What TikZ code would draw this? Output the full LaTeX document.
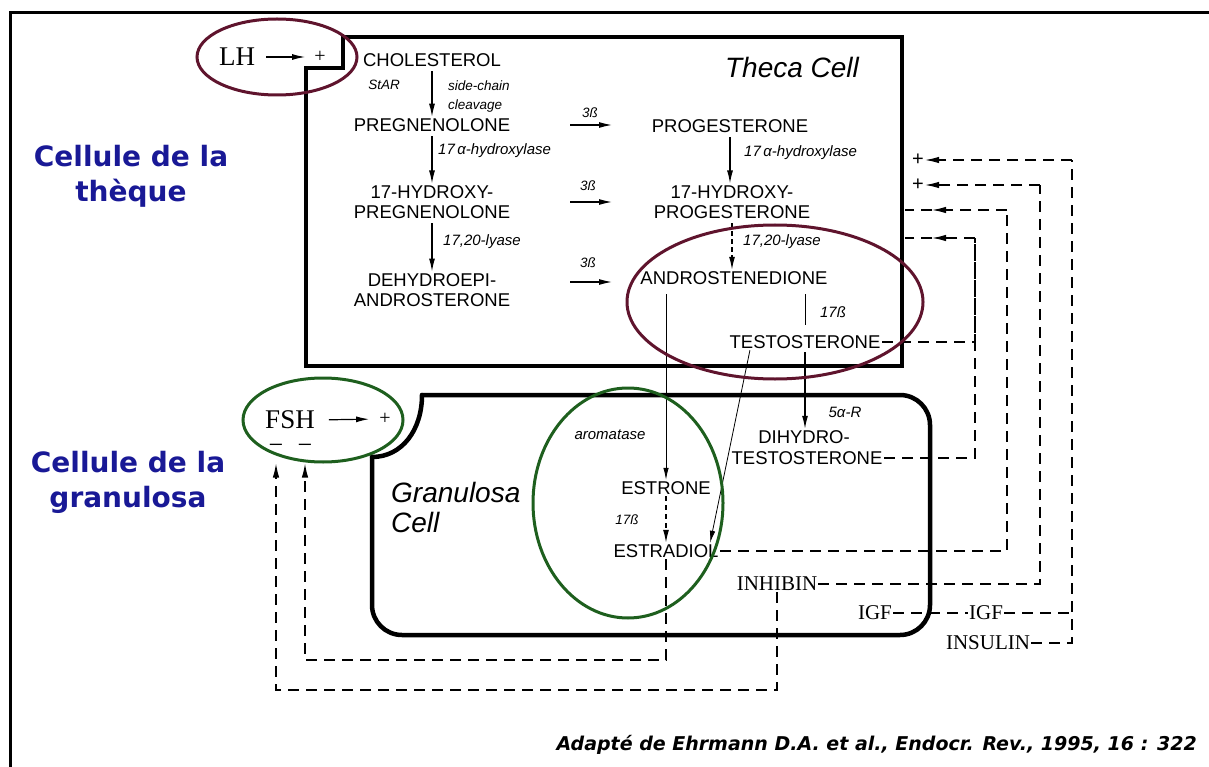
\documentclass[tikz,border=0pt]{standalone}
\usepackage{fontspec}
\setmainfont{Liberation Sans}
\newfontfamily\seriffam{Liberation Serif}
\newfontfamily\bluefam{DejaVu Sans}
\usetikzlibrary{arrows.meta,shapes.geometric}
\definecolor{lhcol}{RGB}{95,20,45}
\definecolor{fshcol}{RGB}{30,95,30}
\definecolor{bluelab}{RGB}{25,25,150}
\begin{document}
\begin{tikzpicture}[x=1pt,y=-1pt,
  lbl/.style={inner sep=1.5pt, align=center, font=\fontsize{18.5}{20.5}\selectfont},
  enz/.style={inner sep=1pt, font=\fontsize{15}{17}\selectfont\itshape},
  enzs/.style={inner sep=1pt, font=\fontsize{13.5}{19}\selectfont\itshape},
  ser/.style={inner sep=1pt, font=\seriffam\fontsize{21}{23}\selectfont},
  serbig/.style={inner sep=1pt, font=\seriffam\fontsize{27}{29}\selectfont},
  plus/.style={inner sep=1pt, font=\fontsize{20}{20}\selectfont},
  arr/.style={line width=1.2pt, -{Latex[length=13pt,width=6pt]}},
  thinarr/.style={line width=0.8pt, -{Latex[length=12pt,width=5.5pt]}},
  dsh/.style={line width=1.2pt, dash pattern=on 11pt off 7pt},
  dsharr/.style={dsh, -{Latex[length=14pt,width=6.5pt]}},
  cellbox/.style={line width=4.5pt, line cap=round, line join=round},
  ring/.style={ellipse, line width=3pt, inner sep=0pt},
  bluetxt/.style={text=bluelab, align=center, inner sep=0pt, font=\bluefam\bfseries\fontsize{28}{35}\selectfont},
  celltitle/.style={inner sep=1pt, align=left, font=\itshape\fontsize{28}{30}\selectfont}]
\useasboundingbox (0,0) rectangle (1209,767);

% frame
\draw[line width=3pt] (10,767) -- (10,13) -- (1209,13);

% cell boxes
\draw[line width=4pt, line join=miter] (343,37) -- (902,37) -- (902,366) -- (306,366) -- (306,68) -- (343,68) -- cycle;
\draw[cellbox, rounded corners=30pt] (422,395) -- (930,395) -- (930,635) -- (372,635) -- (372,457);
\draw[cellbox] (372,457) .. controls (402,457) and (422,430) .. (422,395);

\node[celltitle] (thecalbl) at (792,67) {Theca Cell};
\node[celltitle, anchor=west] (granlbl) at (390,507) {Granulosa\\Cell};

% side labels
\node[bluetxt] (thq) at (131,176) {Cellule de la\\thèque};
\node[bluetxt] (grl) at (128,482) {Cellule de la\\granulosa};

% steroids
\node[lbl] (chol) at (432,60) {CHOLESTEROL};
\node[lbl] (preg) at (432,125) {PREGNENOLONE};
\node[lbl] (ohpreg) at (432,202) {17-HYDROXY-\\PREGNENOLONE};
\node[lbl] (dhea) at (432,290) {DEHYDROEPI-\\ANDROSTERONE};
\node[lbl] (prog) at (730,126) {PROGESTERONE};
\node[lbl] (ohprog) at (732,202) {17-HYDROXY-\\PROGESTERONE};
\node[lbl] (andro) at (734,278) {ANDROSTENEDIONE};
\node[lbl] (testo) at (805,342) {TESTOSTERONE};
\node[lbl] (dhta) at (804,437) {DIHYDRO-};
\node[lbl] (dhtb) at (807,458) {TESTOSTERONE};
\node[lbl] (estrone) at (666,488) {ESTRONE};
\node[lbl] (estradiol) at (666,551) {ESTRADIOL};

% enzymes
\node[enzs] (star) at (384,85) {StAR};
\node[enzs, anchor=west, align=left] (scc) at (447,97) {side-chain\\cleavage};
\node[enz, anchor=west] (hyd1) at (437,151) {17\,α-hydroxylase};
\node[enz, anchor=west] (lya1) at (442,242) {17,20-lyase};
\node[enz, anchor=west] (hyd2) at (743,153) {17\,α-hydroxylase};
\node[enz, anchor=west] (lya2) at (742,242) {17,20-lyase};
\node[enzs] (tb1) at (590,113) {3ß};
\node[enzs] (tb2) at (588,186) {3ß};
\node[enzs] (tb3) at (588,263) {3ß};
\node[enz] (hb1) at (833,312) {17ß};
\node[enz] (fa) at (845,412) {5α-R};
\node[enz] (arom) at (610,435) {aromatase};
\node[enzs] (hb2) at (627,520) {17ß};

% vertical steps
\draw[arr, shorten <=3pt] (chol.south) -- (chol.south |- preg.north);
\draw[arr, shorten <=3pt] (preg.south) -- (preg.south |- ohpreg.north);
\draw[arr, shorten <=3pt] (ohpreg.south) -- (ohpreg.south |- dhea.north);
\draw[arr, shorten <=3pt] (prog.south) -- (prog.south |- ohprog.north);
\draw[arr, shorten <=3pt, dash pattern=on 5pt off 3pt] (ohprog.south) -- (ohprog.south |- andro.north);
\draw[line width=1pt, shorten <=8pt, shorten >=9pt] (testo.north |- andro.south) -- (testo.north);
\draw[arr, shorten <=2pt] (testo.south) -- (testo.south |- dhta.north);
\draw[thinarr, shorten <=8pt] (estrone.north |- andro.south) -- (estrone.north);
\draw[arr, dash pattern=on 5pt off 4pt] (estrone.south) -- (estradiol.north);
\draw[thinarr] ([xshift=22pt]testo.south west) -- ([xshift=-10pt]estradiol.north east);

% 3beta arrows
\coordinate (s1a) at (570,125); \coordinate (s1b) at (612,125);
\coordinate (s2a) at (570,202); \coordinate (s2b) at (612,202);
\coordinate (s3a) at (570,282); \coordinate (s3b) at (612,282);
\draw[arr] (s1a) -- (s1b);
\draw[arr] (s2a) -- (s2b);
\draw[arr] (s3a) -- (s3b);

% LH
\node[serbig] (lh) at (237,57) {LH};
\node[plus, font=\seriffam\fontsize{20}{20}\selectfont] (lhplus) at (320,57) {+};
\draw[arr, shorten <=10pt, shorten >=8pt] (lh.east) -- (lhplus.west);

% FSH
\node[serbig] (fsh) at (290,420) {FSH};
\node[inner sep=0pt, font=\seriffam\fontsize{26}{26}\selectfont] (fm1) at (276,449) {−};
\node[inner sep=0pt, font=\seriffam\fontsize{26}{26}\selectfont] (fm2) at (305,449) {−};
\node[plus, font=\seriffam\fontsize{20}{20}\selectfont] (fplus) at (385,419) {+};
\draw[arr, shorten <=13pt, shorten >=9pt] (fsh.east) -- (fplus.west);

% factors in granulosa
\node[ser] (inhibin) at (777,584) {INHIBIN};
\node[ser] (igfa) at (875,613) {IGF};
\node[ser] (igfb) at (986,613) {IGF};
\node[ser] (insulin) at (988,643) {INSULIN};

% plus signs on theca border
\node[plus] (p1) at (918,160) {+};
\node[plus] (p2) at (918,185) {+};

% feedback routes
\coordinate (r1) at (1072,160);
\coordinate (r2) at (1040,185);
\coordinate (r3) at (1007,210);
\coordinate (r4) at (975,238);
\coordinate (a3) at (932,210); \coordinate (e3) at (905,210);
\coordinate (a4) at (932,238); \coordinate (e4) at (905,238);
\draw[dsh] (insulin.east) -| (r1);
\draw[dsh] (igfb.east) -- (igfb.east -| r1);
\draw[dsh] (igfa.east) -- (igfb.west);
\draw[dsharr] (r1) -- (p1.east);
\draw[dsh] (inhibin.east) -| (r2);
\draw[dsharr] (r2) -- (p2.east);
\draw[dsh] (estradiol.east) -| (r3);
\draw[dsharr] (r3) -- (a3);
\draw[dsh] (a3) -- (e3);
\draw[dsh] (testo.east) -| (r4);
\draw[dsh] (dhtb.east) -| (r4);
\draw[dsharr] (r4) -- (a4);
\draw[dsh] (a4) -- (e4);

% rings
\node[ring, draw=lhcol, minimum width=160pt, minimum height=76pt] (lhell) at (277,57) {};
\node[ring, draw=fshcol, minimum width=160pt, minimum height=84pt] (fshell) at (323,420) {};
\node[ring, draw=lhcol, minimum width=296pt, minimum height=154pt] (andell) at (775,302) {};
\node[ring, draw=fshcol, minimum width=190pt, minimum height=230pt] (estell) at (628,503) {};

% feedback to FSH
\coordinate (bb1) at (276,690);
\coordinate (bb2) at (305,660);
\draw[dsharr] (inhibin.south) |- (bb1) -- (fm1 |- fshell.south);
\draw[dsharr] (estradiol.south) |- (bb2) -- (fm2 |- fshell.south);

% citation
\node[anchor=east, inner sep=0pt, font=\bluefam\bfseries\itshape\fontsize{19}{19}\selectfont] (cite) at (1197,745) {Adapté de Ehrmann D.A. et al., Endocr. Rev., 1995, 16 : 322};
\end{tikzpicture}
\end{document}
